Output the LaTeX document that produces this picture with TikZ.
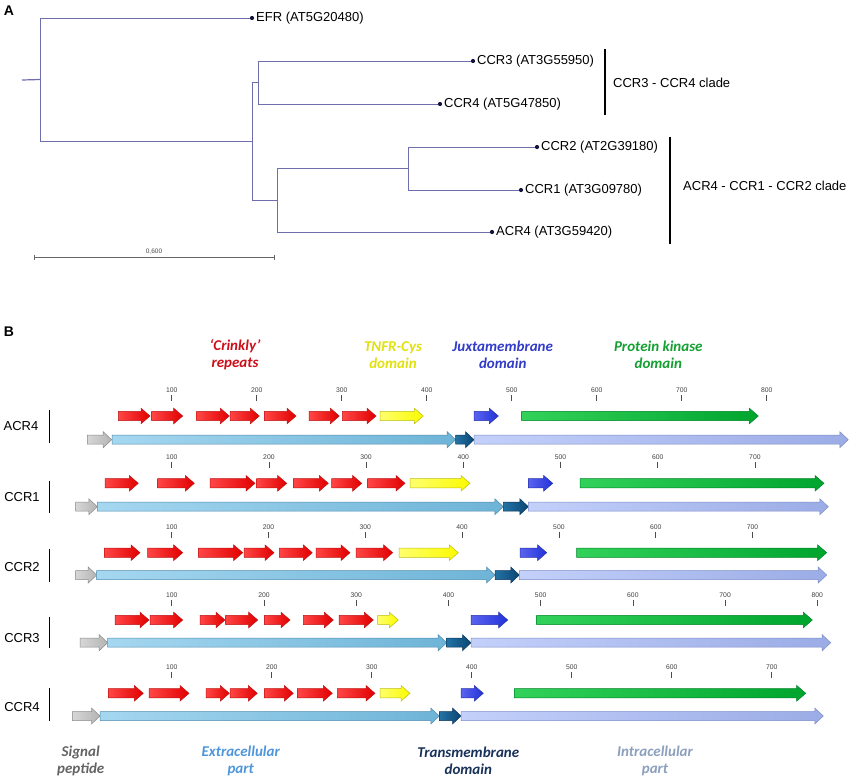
\documentclass[tikz,border=0pt]{standalone}
\usepackage{fontspec}
\setmainfont{Liberation Sans}
\newfontfamily\hdrfont{Carlito}
\definecolor{treecol}{RGB}{110,110,175}
\definecolor{dotcol}{RGB}{20,20,60}
\definecolor{redL}{RGB}{255,70,70}
\definecolor{redR}{RGB}{225,0,0}
\definecolor{redD}{RGB}{190,20,20}
\definecolor{yelL}{RGB}{255,255,110}
\definecolor{yelR}{RGB}{250,250,0}
\definecolor{yelD}{RGB}{190,190,20}
\definecolor{bluL}{RGB}{90,100,240}
\definecolor{bluR}{RGB}{35,50,215}
\definecolor{bluD}{RGB}{40,50,170}
\definecolor{grnL}{RGB}{50,210,90}
\definecolor{grnR}{RGB}{0,165,45}
\definecolor{grnD}{RGB}{0,130,40}
\definecolor{gryL}{RGB}{215,215,215}
\definecolor{gryR}{RGB}{180,180,180}
\definecolor{gryD}{RGB}{140,140,140}
\definecolor{extL}{RGB}{165,215,240}
\definecolor{extR}{RGB}{110,180,215}
\definecolor{extD}{RGB}{80,140,175}
\definecolor{tmL}{RGB}{35,115,165}
\definecolor{tmR}{RGB}{10,70,115}
\definecolor{tmD}{RGB}{10,55,95}
\definecolor{intL}{RGB}{195,208,250}
\definecolor{intR}{RGB}{155,172,230}
\definecolor{intD}{RGB}{125,140,200}
\definecolor{tcCrink}{RGB}{205,15,25}
\definecolor{tcTnfr}{RGB}{225,225,15}
\definecolor{tcJuxta}{RGB}{50,60,200}
\definecolor{tcPk}{RGB}{20,160,50}
\definecolor{tcSig}{RGB}{100,100,100}
\definecolor{tcExt}{RGB}{80,150,220}
\definecolor{tcTm}{RGB}{25,50,90}
\definecolor{tcInt}{RGB}{140,160,190}
\newcommand{\DArrow}[7]{\path[#1] ({#2},{#4-#5}) -- ({#3-#7},{#4-#5}) -- ({#3-#7},{#4-#6}) -- ({#3},{#4}) -- ({#3-#7},{#4+#6}) -- ({#3-#7},{#4+#5}) -- ({#2},{#4+#5}) -- cycle;}
\newcommand{\Dom}[4]{\DArrow{#1}{#2}{#3}{#4}{4.6}{7.8}{9}}
\newcommand{\Bone}[4]{\DArrow{#1}{#2}{#3}{#4}{4.5}{8}{8.5}}
\newcommand{\TickRow}[4]{\foreach \tv in {#4}{\node[ticklbl] at ({#1+\tv/100*#2},{#3}) {\tv}; \draw[tickmk] ({#1+\tv/100*#2},{#3+5}) -- ({#1+\tv/100*#2},{#3+11});}}
\begin{document}
\begin{tikzpicture}[x=1pt,y=-1pt,
  tree/.style={draw=treecol,line width=0.8pt},
  leaflbl/.style={anchor=west,inner sep=0pt,font=\fontsize{13}{15}\selectfont},
  cladebar/.style={draw=black,line width=1.8pt},
  panellbl/.style={inner sep=0pt,font=\fontsize{14}{16}\selectfont\bfseries},
  ticklbl/.style={inner sep=0pt,text=black!75,font=\fontsize{6.8}{7}\selectfont},
  tickmk/.style={draw=black!70,line width=0.6pt},
  rowname/.style={inner sep=0pt,font=\fontsize{13}{15}\selectfont},
  rowbar/.style={draw=black,line width=1.6pt},
  hdr/.style={inner sep=0pt,align=center,font=\hdrfont\fontsize{15}{17}\selectfont\bfseries\itshape},
  redarr/.style={draw=redD,line width=0.5pt,left color=redL,right color=redR},
  yelarr/.style={draw=yelD,line width=0.5pt,left color=yelL,right color=yelR},
  bluarr/.style={draw=bluD,line width=0.5pt,left color=bluL,right color=bluR},
  grnarr/.style={draw=grnD,line width=0.5pt,left color=grnL,right color=grnR},
  sigarr/.style={draw=gryD,line width=0.5pt,left color=gryL,right color=gryR},
  extarr/.style={draw=extD,line width=0.5pt,left color=extL,right color=extR},
  tmarr/.style={draw=tmD,line width=0.5pt,left color=tmL,right color=tmR},
  intarr/.style={draw=intD,line width=0.5pt,left color=intL,right color=intR}]
\useasboundingbox[fill=white] (0,0) rectangle (851,780);
% ---------------- Panel A ----------------
\node[panellbl] (lblA) at (9,11) {A};
\coordinate (root) at (22,80);
\coordinate (n0) at (40,79.5);
\coordinate (n1) at (252,141);
\coordinate (n2) at (258,82.5);
\coordinate (n3) at (277,200);
\coordinate (n4) at (408,168.5);
\coordinate (efr) at (252,18);
\coordinate (ccr3) at (473,61);
\coordinate (ccr4) at (440,104);
\coordinate (ccr2) at (537,147);
\coordinate (ccr1) at (521,190);
\coordinate (acr4) at (492,232);
\draw[tree,line width=1.2pt] (root) -- (n0);
\draw[tree] (n0) |- (efr);
\draw[tree] (n0) |- (n1);
\draw[tree] (n1) |- (n2);
\draw[tree] (n1) |- (n3);
\draw[tree] (n2) |- (ccr3);
\draw[tree] (n2) |- (ccr4);
\draw[tree] (n3) |- (n4);
\draw[tree] (n3) |- (acr4);
\draw[tree] (n4) |- (ccr2);
\draw[tree] (n4) |- (ccr1);
\foreach \lf in {efr,ccr3,ccr4,ccr2,ccr1,acr4}{\fill[dotcol] (\lf) circle (2.1);}
\node[leaflbl] (efrl) at ([xshift=4pt]efr) {EFR (AT5G20480)};
\node[leaflbl] (ccr3l) at ([xshift=4pt]ccr3) {CCR3 (AT3G55950)};
\node[leaflbl] (ccr4l) at ([xshift=4pt]ccr4) {CCR4 (AT5G47850)};
\node[leaflbl] (ccr2l) at ([xshift=4pt]ccr2) {CCR2 (AT2G39180)};
\node[leaflbl] (ccr1l) at ([xshift=4pt]ccr1) {CCR1 (AT3G09780)};
\node[leaflbl] (acr4l) at ([xshift=4pt]acr4) {ACR4 (AT3G59420)};
\coordinate (cb1a) at (605,49); \coordinate (cb1b) at (605,115);
\coordinate (cb2a) at (670,136.7); \coordinate (cb2b) at (670,244);
\draw[cladebar] (cb1a) -- (cb1b);
\draw[cladebar] (cb2a) -- (cb2b);
\node[leaflbl] (clade1) at (613,82.5) {CCR3 - CCR4 clade};
\node[leaflbl] (clade2) at (683,186) {ACR4 - CCR1 - CCR2 clade};
% scale bar
\coordinate (sbl) at (34,257); \coordinate (sbr) at (274,257);
\draw[draw=black!60,line width=0.7pt] (sbl) -- (sbr);
\draw[draw=black!60,line width=0.7pt] ([yshift=2.5pt]sbl) -- ([yshift=-2.5pt]sbl);
\draw[draw=black!60,line width=0.7pt] ([yshift=2.5pt]sbr) -- ([yshift=-2.5pt]sbr);
\node[inner sep=0pt,text=black!70,font=\fontsize{6.5}{7}\selectfont] (sblbl) at (154,252) {0,600};
% ---------------- Panel B ----------------
\node[panellbl] (lblB) at (9,332) {B};
\node[hdr,text=tcCrink] (hCr) at (235,355) {‘Crinkly’\\repeats};
\node[hdr,text=tcTnfr] (hTn) at (393,355) {TNFR-Cys\\domain};
\node[hdr,text=tcJuxta] (hJu) at (502.7,355) {Juxtamembrane\\domain};
\node[hdr,text=tcPk] (hPk) at (658.3,355) {Protein kinase\\domain};
% ACR4
\node[rowname] (rACR4) at (21,425.7) {ACR4};
\draw[rowbar] (49.3,410) -- (49.3,442.7);
\TickRow{86.7}{85}{390}{100,200,300,400,500,600,700,800}
\Dom{redarr}{118.3}{150}{416}\Dom{redarr}{151.7}{182.7}{416}\Dom{redarr}{196.7}{229.3}{416}\Dom{redarr}{230}{259.3}{416}
\Dom{redarr}{264.3}{296}{416}\Dom{redarr}{309}{339.3}{416}\Dom{redarr}{342.3}{376}{416}
\Dom{yelarr}{380}{423.3}{416}\Dom{bluarr}{474}{498.3}{416}\Dom{grnarr}{521.7}{758.3}{416}
\Bone{sigarr}{87.3}{111.7}{439.7}\Bone{extarr}{112}{455.7}{439.7}\Bone{tmarr}{455.7}{474}{439.7}\Bone{intarr}{474}{848.3}{439.7}
% CCR1
\node[rowname] (rCCR1) at (22,496.7) {CCR1};
\draw[rowbar] (49.3,480.7) -- (49.3,512.7);
\TickRow{74.5}{97.2}{456.7}{100,200,300,400,500,600,700}
\Dom{redarr}{105}{138.3}{483.3}\Dom{redarr}{157.7}{194.3}{483.3}\Dom{redarr}{210}{255}{483.3}\Dom{redarr}{256.7}{286.7}{483.3}
\Dom{redarr}{293.3}{328.3}{483.3}\Dom{redarr}{331.7}{361.7}{483.3}\Dom{redarr}{367.7}{405}{483.3}
\Dom{yelarr}{410}{470}{483.3}\Dom{bluarr}{528.3}{552.7}{483.3}\Dom{grnarr}{580}{824}{483.3}
\Bone{sigarr}{75.7}{97.3}{506.7}\Bone{extarr}{97.3}{503.3}{506.7}\Bone{tmarr}{503.3}{528.3}{506.7}\Bone{intarr}{528.3}{828.3}{506.7}
% CCR2
\node[rowname] (rCCR2) at (22,566.7) {CCR2};
\draw[rowbar] (49.3,549.3) -- (49.3,581.7);
\TickRow{74.9}{96.8}{526.7}{100,200,300,400,500,600,700}
\Dom{redarr}{104.3}{140}{552.7}\Dom{redarr}{147.7}{182.7}{552.7}\Dom{redarr}{198.3}{242.7}{552.7}\Dom{redarr}{244}{274}{552.7}
\Dom{redarr}{279.3}{312.3}{552.7}\Dom{redarr}{316}{350}{552.7}\Dom{redarr}{356}{392.7}{552.7}
\Dom{yelarr}{399}{458.3}{552.7}\Dom{bluarr}{520}{546.7}{552.7}\Dom{grnarr}{576.7}{826.7}{552.7}
\Bone{sigarr}{75.7}{96.7}{575}\Bone{extarr}{96.7}{495}{575}\Bone{tmarr}{495}{519.3}{575}\Bone{intarr}{519.3}{826.7}{575}
% CCR3
\node[rowname] (rCCR3) at (22,638.3) {CCR3};
\draw[rowbar] (49.3,616.7) -- (49.3,648.3);
\TickRow{79.5}{92.23}{595}{100,200,300,400,500,600,700,800}
\Dom{redarr}{115}{149}{620}\Dom{redarr}{150}{182.7}{620}\Dom{redarr}{200}{225}{620}\Dom{redarr}{225.7}{257.7}{620}
\Dom{redarr}{264.3}{290}{620}\Dom{redarr}{303.3}{333.3}{620}\Dom{redarr}{339}{373.3}{620}
\Dom{yelarr}{377.7}{398.3}{620}\Dom{bluarr}{471}{507.7}{620}\Dom{grnarr}{536.7}{812.3}{620}
\Bone{sigarr}{80}{107.7}{642.7}\Bone{extarr}{107.7}{446.7}{642.7}\Bone{tmarr}{446.7}{471}{642.7}\Bone{intarr}{471}{830.7}{642.7}
% CCR4
\node[rowname] (rCCR4) at (22,707.3) {CCR4};
\draw[rowbar] (49.3,688.3) -- (49.3,720.7);
\TickRow{71.7}{100}{667.3}{100,200,300,400,500,600,700}
\Dom{redarr}{108.3}{143.3}{693.3}\Dom{redarr}{149}{189}{693.3}\Dom{redarr}{206}{229.3}{693.3}\Dom{redarr}{230}{257.3}{693.3}
\Dom{redarr}{264.3}{293.3}{693.3}\Dom{redarr}{297.3}{332.3}{693.3}\Dom{redarr}{337.3}{375}{693.3}
\Dom{yelarr}{380}{410}{693.3}\Dom{bluarr}{461}{483.3}{693.3}\Dom{grnarr}{514.3}{805.7}{693.3}
\Bone{sigarr}{72.3}{100}{716}\Bone{extarr}{100}{439.3}{716}\Bone{tmarr}{439.3}{461}{716}\Bone{intarr}{461}{823.3}{716}
% bottom legend
\node[hdr,text=tcSig] (bSig) at (80.7,761) {Signal\\peptide};
\node[hdr,text=tcExt] (bExt) at (240.7,761) {Extracellular\\part};
\node[hdr,text=tcTm] (bTm) at (468.3,761) {Transmembrane\\domain};
\node[hdr,text=tcInt] (bInt) at (655,761) {Intracellular\\part};
\end{tikzpicture}
\end{document}
